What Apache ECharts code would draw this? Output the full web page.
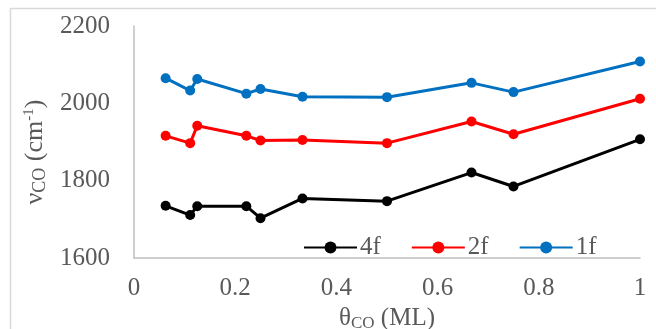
<!DOCTYPE html>
<html>
<head>
<meta charset="utf-8">
<script src="https://cdn.jsdelivr.net/npm/echarts@6/dist/echarts.min.js"></script>
<style>
  html, body { margin: 0; padding: 0; background: #fff; }
  #chart { width: 656px; height: 329px; }
</style>
</head>
<body>
<div id="chart"></div>
<script>
// coverage (ML)
const coverage = [0.0625, 0.111, 0.125, 0.222, 0.25, 0.333, 0.5, 0.667, 0.75, 1.0]
// CO stretch frequency (cm-1)
const freq4f = [1735, 1711, 1734, 1734, 1703, 1754, 1747, 1821, 1785, 1907]
const freq2f = [1916, 1897, 1942, 1916, 1904, 1905, 1897, 1953, 1920, 2012]
const freq1f = [2065, 2033, 2063, 2025, 2037, 2017, 2016, 2053, 2029, 2108]
const seriesNames = ['4f', '2f', '1f']
const colorArr = ['#000000', '#ff0000', '#0070c0']

const pairs = (ys) => coverage.map((x, i) => [x, ys[i]])
const font = 'Liberation Serif'
const grey = '#595959'

const chart = echarts.init(document.getElementById('chart'))
const option = {
  animation: false,
  grid: { left: 134, right: 16, top: 26, bottom: 71, containLabel: false, outerBoundsMode: 'none' },
  legend: {
    data: seriesNames,
    left: 298,
    top: 230,
    itemWidth: 53,
    itemHeight: 15,
    itemGap: 30,
    textStyle: { fontFamily: font, fontSize: 25, color: grey, padding: [0, 0, 0, -2] }
  },
  xAxis: {
    type: 'value',
    min: 0, max: 1, interval: 0.2,
    name: '{t|θ}{s|CO}{t| (ML)}',
    nameLocation: 'middle',
    nameGap: 41,
    nameTextStyle: {
      rich: {
        t: { fontFamily: font, fontSize: 25, color: grey },
        s: { fontFamily: font, fontSize: 17, color: grey, padding: [10, 0, 0, 0] }
      }
    },
    axisLine: { lineStyle: { color: '#bfbfbf', width: 1.5 } },
    axisTick: { show: false },
    splitLine: { show: false },
    axisLabel: { fontFamily: font, fontSize: 25, color: grey, margin: 18, formatter: (v) => String(v) }
  },
  yAxis: {
    type: 'value',
    min: 1600, max: 2200, interval: 200,
    name: '{t|ν}{s|CO}{t| (cm}{p|-1}{t|)}',
    nameLocation: 'middle',
    nameGap: 82,
    nameRotate: 90,
    nameTextStyle: {
      padding: [0, 0, 0, -20],
      rich: {
        t: { fontFamily: font, fontSize: 26, color: grey },
        s: { fontFamily: font, fontSize: 18, color: grey, padding: [10, 0, 0, 0] },
        p: { fontFamily: font, fontSize: 15, color: grey, padding: [0, 0, 12, 0] }
      }
    },
    axisLine: { show: true, lineStyle: { color: '#bfbfbf', width: 1.5 } },
    axisTick: { show: false },
    splitLine: { show: false },
    axisLabel: { fontFamily: font, fontSize: 25, color: grey, margin: 24, formatter: (v) => String(v) }
  },
  series: [freq4f, freq2f, freq1f].map((ys, i) => ({
    name: seriesNames[i],
    type: 'line',
    data: pairs(ys),
    symbol: 'circle',
    symbolSize: 10,
    color: colorArr[i],
    lineStyle: { width: 3, color: colorArr[i] },
    itemStyle: { color: colorArr[i] }
  })),
  graphic: [
    { type: 'line', shape: { x1: 10, y1: 8.5, x2: 656, y2: 8.5 }, style: { stroke: '#d9d9d9', lineWidth: 1.5 } },
    { type: 'line', shape: { x1: 10.5, y1: 8, x2: 10.5, y2: 329 }, style: { stroke: '#d9d9d9', lineWidth: 1.5 } }
  ]
}
chart.setOption(option)
</script>
</body>
</html>
